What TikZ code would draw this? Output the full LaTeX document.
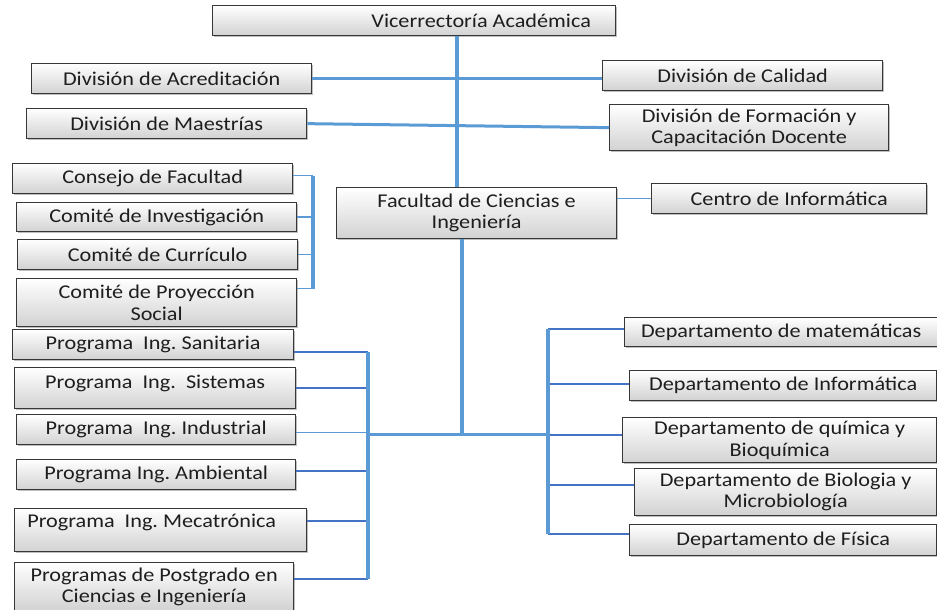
\documentclass[tikz,border=0pt]{standalone}
\usepackage{fontspec}
\setmainfont[FakeStretch=1.14]{Carlito}
\usetikzlibrary{shadows}
\definecolor{lineblue}{RGB}{91,155,213}
\definecolor{stubblue}{RGB}{68,114,196}
\definecolor{boxline}{RGB}{55,55,55}
\definecolor{boxgray}{RGB}{210,210,210}
\definecolor{txt}{RGB}{30,30,30}
\frenchspacing
\begin{document}
\begin{tikzpicture}[x=1pt,y=-1pt,
  orgbox/.style={draw=boxline, line width=1.3pt, top color=white, bottom color=boxgray,
    inner sep=0pt, align=center, anchor=north west, text=txt,
    font=\fontsize{19.5}{21.5}\selectfont,
    drop shadow={shadow xshift=1.2pt, shadow yshift=-1.2pt, fill=black, opacity=0.25}},
  trunk/.style={draw=lineblue, line width=4pt},
  hbar/.style={draw=lineblue, line width=3pt},
  thinstub/.style={draw=lineblue, line width=1.5pt},
  darkstub/.style={draw=stubblue, line width=2pt},
  hair/.style={draw=lineblue, line width=1pt}]
\useasboundingbox (0,0) rectangle (937,610);

% top level
\node[orgbox, minimum width=403pt, minimum height=30pt] (vice) at (212,5)
  {\hspace*{134pt}Vicerrectoría Académica};
\node[orgbox, minimum width=280pt, minimum height=30pt] (acred) at (31,63) {División de Acreditación};
\node[orgbox, minimum width=280pt, minimum height=30pt] (maest) at (26,108) {División de Maestrías};
\node[orgbox, minimum width=280pt, minimum height=30pt] (calidad) at (602,60) {División de Calidad};
\node[orgbox, minimum width=279pt, minimum height=46pt] (form) at (609,104)
  {División de Formación y\\Capacitación Docente};

% faculty bodies
\node[orgbox, minimum width=280pt, minimum height=30pt] (consejo) at (12,163) {Consejo de Facultad};
\node[orgbox, minimum width=280pt, minimum height=29pt] (invest) at (16,202) {Comité de Investigación};
\node[orgbox, minimum width=280pt, minimum height=30pt] (curr) at (17,239) {Comité de Currículo};
\node[orgbox, minimum width=280pt, minimum height=48pt] (proy) at (16,278) {Comité de Proyección\\Social};
\node[orgbox, minimum width=280pt, minimum height=51pt] (fac) at (336,187) {Facultad de Ciencias e\\Ingeniería};
\node[orgbox, minimum width=275pt, minimum height=30pt] (centro) at (651,183) {Centro de Informática};

% programmes
\node[orgbox, minimum width=281pt, minimum height=30pt] (sanit) at (12,329) {Programa\ \ Ing. Sanitaria};
\node[orgbox, minimum width=281pt, text height=21pt, text depth=20pt] (sist) at (14,367) {Programa\ \ Ing.\ \ Sistemas};
\node[orgbox, minimum width=279pt, minimum height=30pt] (indus) at (16,414) {Programa\ \ Ing. Industrial};
\node[orgbox, minimum width=279pt, minimum height=30pt] (amb) at (16,459) {Programa Ing. Ambiental};
\node[orgbox, minimum width=292pt, text height=19pt, text depth=24pt] (meca) at (14,508)
  {Programa\ \ Ing. Mecatrónica\hspace*{18pt}};
\node[orgbox, minimum width=279pt, minimum height=48pt] (postg) at (14,562)
  {Programas de Postgrado en\\Ciencias e Ingeniería};

% departments
\node[orgbox, minimum width=313pt, minimum height=29pt] (mat) at (624,317) {Departamento de matemáticas};
\node[orgbox, minimum width=307pt, minimum height=30pt] (info) at (629,370) {Departamento de Informática};
\node[orgbox, minimum width=314pt, minimum height=45pt] (quim) at (622,417) {Departamento de química y\\Bioquímica};
\node[orgbox, minimum width=302pt, minimum height=47pt] (bio) at (634,468) {Departamento de Biologia y\\Microbiología};
\node[orgbox, minimum width=307pt, minimum height=31pt] (fis) at (629,524) {Departamento de Física};

% guide coordinates for the vertical bars
\coordinate (ta) at (457,0);
\coordinate (tb) at (462,0);
\coordinate (cb) at (313,0);
\coordinate (lb) at (368,0);
\coordinate (rb) at (548,0);
\coordinate (hub) at (462,434);

% upper trunk and divisions
\draw[trunk] (vice.south -| ta) -- (fac.north -| ta);
\draw[hbar] (acred.east) -- (acred.east -| calidad.west);
\draw[hbar] (maest.east) -- (form.west);
\draw[hair] (fac.east |- centro.west) -- (centro.west);

% faculty bodies bracket
\coordinate (c1) at ([yshift=3pt]consejo.east);
\coordinate (c4) at ([yshift=14pt]proy.east);
\draw[thinstub] (c1) -- (c1 -| cb);
\draw[thinstub] (invest.east) -- (invest.east -| cb);
\draw[thinstub] (curr.east) -- (curr.east -| cb);
\draw[thinstub] (c4) -- (c4 -| cb);
\draw[trunk] (c1 -| cb) -- (c4 -| cb);

% lower trunk
\draw[trunk] (fac.south -| tb) -- (hub);
\draw[hbar] (lb |- hub) -- (rb |- hub);

% programmes bracket
\coordinate (p1) at ([yshift=-7pt]sanit.east);
\coordinate (p2) at (sist.east);
\coordinate (p3) at ([yshift=-3pt]indus.east);
\coordinate (p4) at ([yshift=4pt]amb.east);
\coordinate (p5) at ([yshift=9.5pt]meca.east);
\coordinate (p6) at ([yshift=8pt]postg.east);
\draw[darkstub] (p1) -- (p1 -| lb);
\draw[darkstub] (p2) -- (p2 -| lb);
\draw[hair] (p3) -- (p3 -| lb);
\draw[darkstub] (p4) -- (p4 -| lb);
\draw[darkstub] (p5) -- (p5 -| lb);
\draw[darkstub] (p6) -- (p6 -| lb);
\draw[trunk] (p1 -| lb) -- (p6 -| lb);

% departments bracket
\coordinate (d1) at ([yshift=3.5pt]mat.west);
\coordinate (d2) at ([yshift=2pt]info.west);
\coordinate (d3) at ([yshift=5.5pt]quim.west);
\coordinate (d4) at ([yshift=7.5pt]bio.west);
\coordinate (d5) at ([yshift=6.5pt]fis.west);
\draw[darkstub] (d1 -| rb) -- (d1);
\draw[darkstub] (d2 -| rb) -- (d2);
\draw[darkstub] (d3 -| rb) -- (d3);
\draw[darkstub] (d4 -| rb) -- (d4);
\draw[darkstub] (d5 -| rb) -- (d5);
\draw[trunk] (d1 -| rb) -- (d5 -| rb);
\end{tikzpicture}
\end{document}
